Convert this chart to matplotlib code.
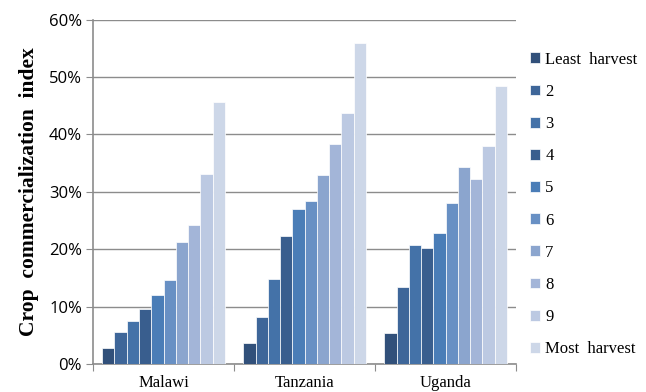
import numpy as np
import matplotlib
matplotlib.use("Agg")
from matplotlib import pyplot as plt
from matplotlib.ticker import PercentFormatter

countries = ["Malawi", "Tanzania", "Uganda"]
groups = ["Least  harvest", "2", "3", "4", "5", "6", "7", "8", "9", "Most  harvest"]

# crop commercialization index (%) per harvest group, one list per country
malawi = [2.8, 5.6, 7.5, 9.6, 12.1, 14.6, 21.3, 24.3, 33.2, 45.6]
tanzania = [3.7, 8.3, 14.9, 22.3, 27.0, 28.4, 33.0, 38.3, 43.7, 56.0]
uganda = [5.5, 13.5, 20.7, 20.2, 22.9, 28.0, 34.4, 32.2, 38.0, 48.4]

colors = ["#31507A", "#3E6699", "#4472A8", "#395E8E", "#4A7DB7",
          "#6890C4", "#8BA5CE", "#A3B5D8", "#BCC9E2", "#CDD7E8"]

data = np.array([malawi, tanzania, uganda])

fig = plt.figure(figsize=(6.46, 3.92), dpi=100)
ax = fig.add_axes([0.144, 0.071, 0.655, 0.879])

x = np.arange(len(countries))
n = len(groups)
group_w = 0.87
w = group_w / n
for i in range(n):
    ax.bar(x - group_w / 2 + w * (i + 0.5), data[:, i], width=w, color=colors[i],
           edgecolor="white", linewidth=0.5, label=groups[i], zorder=3)

ax.set_xlim(-0.5, len(countries) - 0.5)
ax.set_ylim(0, 60)
ax.set_yticks(np.arange(0, 61, 10))
ax.yaxis.set_major_formatter(PercentFormatter(decimals=0))
ax.grid(axis="y", color="#8C8C8C", linewidth=1, zorder=0)

# category boundaries as outward ticks
ax.set_xticks(np.arange(-0.5, len(countries), 1.0))
ax.set_xticklabels([])
ax.set_xticks(x, minor=True)
ax.set_xticklabels(countries, minor=True, fontfamily="Liberation Serif", fontsize=12)
ax.tick_params(axis="x", which="minor", length=0, pad=8)
ax.tick_params(axis="x", which="major", length=5, color="#8C8C8C", direction="out")
ax.tick_params(axis="y", length=5, color="#8C8C8C", direction="out", labelsize=12, pad=3)
for lab in ax.get_yticklabels():
    lab.set_fontfamily("Open Sans")

for s in ["top", "right"]:
    ax.spines[s].set_visible(False)
for s in ["left", "bottom"]:
    ax.spines[s].set_color("#8C8C8C")
    ax.spines[s].set_linewidth(1.2)

ax.set_ylabel("Crop  commercialization  index", fontfamily="Liberation Serif",
              fontweight="bold", fontsize=15.5, labelpad=7)

fig.legend(loc="upper left", bbox_to_anchor=(0.81, 0.885), frameon=False,
           prop={"family": "Liberation Serif", "size": 12},
           handlelength=0.62, handleheight=0.62, handletextpad=0.3,
           labelspacing=0.97, borderaxespad=0)

fig.savefig("out.png", dpi=100)
